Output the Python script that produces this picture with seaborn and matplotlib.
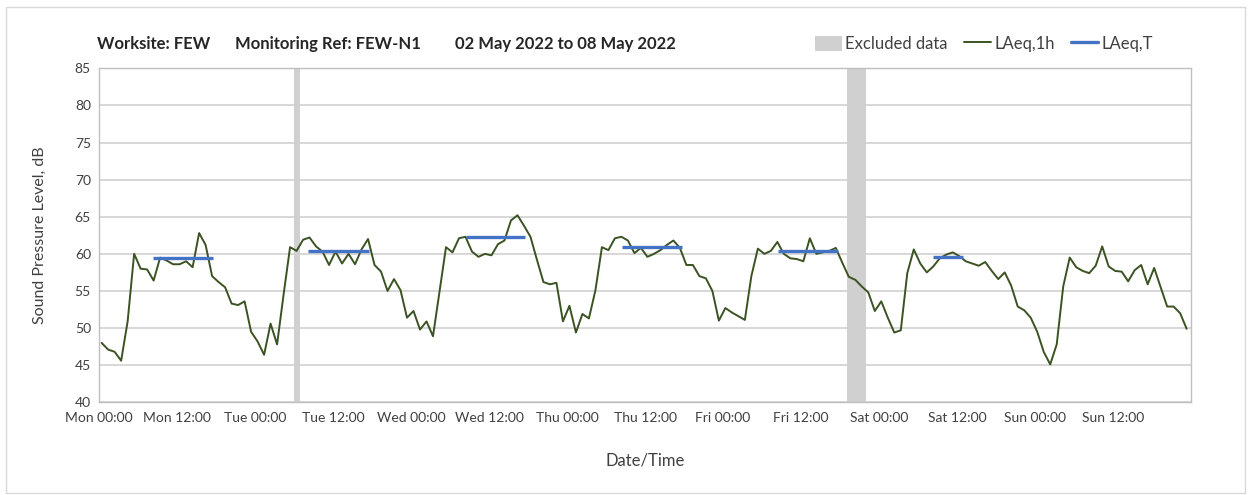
import numpy as np
import pandas as pd
import matplotlib
matplotlib.use("Agg")
import matplotlib.pyplot as plt
import seaborn as sns
from matplotlib.patches import Patch, Rectangle
from matplotlib.lines import Line2D

# ---------------- data ----------------
laeq_1h = [
    48.0, 47.1, 46.8, 45.6, 50.9, 60.0, 58.0, 57.9, 56.4, 59.5, 59.1, 58.6,
    58.6, 59.0, 58.2, 62.8, 61.2, 57.0, 56.2, 55.5, 53.3, 53.1, 53.6, 49.5,
    48.2, 46.4, 50.6, 47.8, 54.5, 60.9, 60.4, 61.9, 62.2, 61.0, 60.3, 58.5,
    60.3, 58.7, 60.0, 58.6, 60.6, 62.0, 58.5, 57.6, 55.0, 56.6, 55.1, 51.4,
    52.3, 49.8, 50.9, 48.9, 54.9, 60.9, 60.2, 62.1, 62.3, 60.3, 59.6, 60.0,
    59.8, 61.3, 61.8, 64.5, 65.2, 63.8, 62.3, 59.2, 56.2, 55.9, 56.1, 50.9,
    53.0, 49.4, 51.9, 51.3, 55.1, 60.9, 60.5, 62.1, 62.3, 61.8, 60.1, 60.8,
    59.6, 60.0, 60.5, 61.2, 61.8, 60.8, 58.5, 58.5, 57.0, 56.7, 55.0, 51.0,
    52.7, 52.1, 51.6, 51.1, 57.0, 60.7, 60.0, 60.4, 61.6, 60.0, 59.4, 59.3,
    59.0, 62.1, 60.0, 60.2, 60.4, 60.8, 58.8, 56.9, 56.5, 55.6, 54.8, 52.3,
    53.6, 51.4, 49.4, 49.7, 57.4, 60.6, 58.7, 57.5, 58.3, 59.4, 59.9, 60.2,
    59.7, 59.0, 58.7, 58.4, 58.9, 57.7, 56.6, 57.5, 55.7, 52.9, 52.4, 51.4,
    49.5, 46.8, 45.1, 47.8, 55.6, 59.5, 58.2, 57.7, 57.4, 58.4, 61.0, 58.3,
    57.7, 57.6, 56.3, 57.8, 58.5, 55.9, 58.1, 55.5, 52.9, 52.9, 52.0, 49.9,
]
sample_hours = np.arange(len(laeq_1h)) + 0.37   # hours since Mon 00:00

excluded_start = [29.9, 115.05]
excluded_end = [30.9, 118.0]

period_start = [8.3, 32.2, 56.4, 80.4, 104.4, 128.4]
period_end = [17.55, 41.5, 65.6, 89.65, 113.7, 132.9]
laeq_t = [59.4, 60.4, 62.3, 60.9, 60.35, 59.6]

days = ["Mon", "Tue", "Wed", "Thu", "Fri", "Sat", "Sun"]
tick_labels = [f"{d} {t}" for d in days for t in ("00:00", "12:00")]
title_parts = ["Worksite: FEW", "Monitoring Ref: FEW-N1", "02 May 2022 to 08 May 2022"]
legend_labels = ["Excluded data", "LAeq,1h", "LAeq,T"]

# ---------------- style ----------------
sns.set_theme(style="white")
plt.rcParams['font.family'] = ['Lato', 'DejaVu Sans']

GREEN = "#3B5323"
BLUE = "#4472C4"
BAND = "#D0D0D0"
GRID = "#D4D4D4"
TXT = "#404040"

fig = plt.figure(figsize=(12.5, 4.95), dpi=100)
ax = fig.add_axes([0.0794, 0.1873, 0.8732, 0.6747])

df = pd.DataFrame({"hour": sample_hours, "LAeq,1h": laeq_1h})

for s, e in zip(excluded_start, excluded_end):
    ax.axvspan(s, e, color=BAND, lw=0, zorder=1)

sns.lineplot(data=df, x="hour", y="LAeq,1h", ax=ax, color=GREEN, lw=1.4, zorder=3)
ax.hlines(laeq_t, period_start, period_end, color=BLUE, lw=2.4, zorder=4)

ax.set_xlim(0, 168)
ax.set_ylim(40, 85)
ax.set_yticks(np.arange(40, 86, 5))
ax.set_xticks(np.arange(0, 169, 12))
ax.set_xticklabels(tick_labels + [""])
ax.set_xticks(np.arange(24, 168, 24), minor=True)

ax.grid(False)
ax.grid(axis="y", which="major", color=GRID, lw=1.3, zorder=0)
ax.grid(axis="x", which="minor", color="#E3E3E3", lw=1.0, zorder=0)
ax.set_axisbelow(True)

for sp in ax.spines.values():
    sp.set_visible(True)
    sp.set_color("#BFBFBF")
    sp.set_linewidth(1.0)

ax.tick_params(axis="x", which="major", direction="out", length=4, width=1,
               color="#BFBFBF", labelsize=10, labelcolor=TXT, pad=3)
ax.tick_params(axis="x", which="minor", length=0)
ax.tick_params(axis="y", direction="out", length=4, width=1,
               color="#BFBFBF", labelsize=10, labelcolor=TXT, pad=2)

ax.set_xlabel("")
ax.set_ylabel("")
fig.text(40 / 1250, 1 - 235 / 495, "Sound Pressure Level, dB", rotation=90,
         ha="center", va="center", fontsize=11.5, color=TXT)
fig.text(645 / 1250, 1 - 460 / 495, "Date/Time", ha="center", va="center",
         fontsize=12, color=TXT)

# title pieces
for x_px, part in zip([97, 235, 455], title_parts):
    fig.text(x_px / 1250, 1 - 44 / 495, part, ha="left", va="center",
             fontsize=12, fontweight="bold", color="#262626")

handles = [Patch(facecolor=BAND, edgecolor="none"),
           Line2D([0], [0], color=GREEN, lw=1.4),
           Line2D([0], [0], color=BLUE, lw=2.4)]
leg = fig.legend(handles, legend_labels, loc="center left",
                 bbox_to_anchor=(800 / 1250, 1 - 44 / 495), ncol=3, frameon=False,
                 fontsize=12, handlelength=1.6, handleheight=1.0,
                 handletextpad=0.2, columnspacing=1.0)
for t in leg.get_texts():
    t.set_color(TXT)

fig.add_artist(Rectangle((6 / 1250, 2 / 495), 1239 / 1250, 486 / 495,
                         transform=fig.transFigure, fill=False,
                         edgecolor="#D9D9D9", lw=1.0))

fig.savefig("out.png", dpi=100, facecolor="white")
